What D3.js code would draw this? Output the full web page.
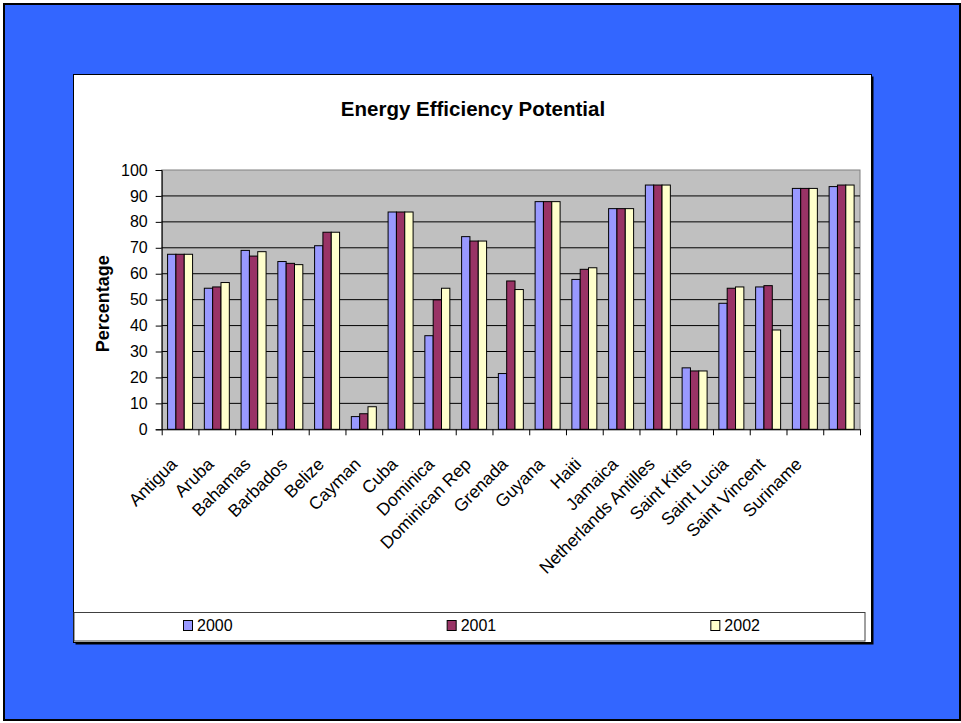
<!DOCTYPE html>
<html>
<head>
<meta charset="utf-8">
<script src="https://cdn.jsdelivr.net/npm/d3@7"></script>
<style>
  body { margin: 0; background: #fff; }
  svg { display: block; font-family: "Liberation Sans", Arial, sans-serif; }
</style>
</head>
<body>
<svg id="chart" width="961" height="723"></svg>
<script>
// data
var categories = ["Antigua", "Aruba", "Bahamas", "Barbados", "Belize", "Cayman", "Cuba",
    "Dominica", "Dominican Rep", "Grenada", "Guyana", "Haiti", "Jamaica",
    "Netherlands Antilles", "Saint Kitts", "Saint Lucia", "Saint Vincent", "Suriname", ""];
var series = ["2000", "2001", "2002"];
var values2000 = [67.5, 54.4, 69.0, 64.7, 70.8, 4.9, 83.8, 36.1, 74.3, 21.5, 87.8, 57.8, 85.1, 94.2, 23.7, 48.6, 54.9, 92.9, 93.6];
var values2001 = [67.5, 54.9, 66.8, 64.0, 76.0, 6.0, 83.8, 49.9, 72.6, 57.2, 87.8, 61.7, 85.1, 94.2, 22.5, 54.4, 55.4, 92.9, 94.2];
var values2002 = [67.5, 56.6, 68.5, 63.5, 76.0, 8.7, 83.8, 54.4, 72.6, 53.9, 87.8, 62.3, 85.1, 94.2, 22.5, 54.9, 38.3, 92.9, 94.2];
var yTicks = [0, 10, 20, 30, 40, 50, 60, 70, 80, 90, 100];
var colors = ["#9999ff", "#993366", "#ffffcc"];

var seriesValues = [values2000, values2001, values2002];
var rows = categories.map(function(c, i) {
    return { idx: i, name: c, vals: series.map(function(s, j) { return { key: s, j: j, v: seriesValues[j][i] }; }) };
});

var svg = d3.select("#chart");

// blue slide background
svg.append("rect")
    .attr("x", 4).attr("y", 4).attr("width", 956).attr("height", 716)
    .attr("fill", "#3366ff").attr("stroke", "#000").attr("stroke-width", 2);

// chart area with shadow
svg.append("rect")
    .attr("x", 75.5).attr("y", 76.5).attr("width", 798).attr("height", 568)
    .attr("fill", "#000");
svg.append("rect")
    .attr("x", 73.5).attr("y", 74.5).attr("width", 798).attr("height", 568)
    .attr("fill", "#fff").attr("stroke", "#000");

svg.append("text")
    .attr("x", 473).attr("y", 115.5)
    .attr("text-anchor", "middle")
    .style("font-size", "20.5px").style("font-weight", "bold")
    .text("Energy Efficiency Potential");

var plot = { left: 161.7, right: 860, top: 170, bottom: 429.3 };

var x0 = d3.scaleBand().domain(d3.range(categories.length)).range([plot.left, plot.right]);
var xIdx = d3.scaleLinear().domain([0, categories.length]).range([plot.left, plot.right]);
var groupW = x0.bandwidth() * 0.68;
var x1 = d3.scaleBand().domain(series).range([0, groupW]);
var y = d3.scaleLinear().domain([0, 100]).range([plot.bottom, plot.top]);

svg.append("rect")
    .attr("x", plot.left).attr("y", plot.top)
    .attr("width", plot.right - plot.left).attr("height", plot.bottom - plot.top)
    .attr("fill", "#c0c0c0").attr("stroke", "#808080");

// gridlines
svg.append("g").selectAll("line")
    .data(yTicks.filter(function(t) { return t > 0 && t < 100; }))
    .join("line")
    .attr("x1", plot.left).attr("x2", plot.right)
    .attr("y1", function(d) { return y(d); }).attr("y2", function(d) { return y(d); })
    .attr("stroke", "#000").attr("stroke-width", 1);

// bars
var groups = svg.append("g").selectAll("g")
    .data(rows)
    .join("g")
    .attr("transform", function(d) { return "translate(" + (x0(d.idx) + (x0.bandwidth() - groupW) / 2) + ",0)"; });
groups.selectAll("rect")
    .data(function(d) { return d.vals; })
    .join("rect")
    .attr("x", function(d) { return x1(d.key); })
    .attr("width", x1.bandwidth())
    .attr("y", function(d) { return y(d.v); })
    .attr("height", function(d) { return y(0) - y(d.v); })
    .attr("fill", function(d) { return colors[d.j]; })
    .attr("stroke", "#000").attr("stroke-width", 1);

// y axis
var yAxis = svg.append("g")
    .attr("transform", "translate(" + plot.left + ",0)")
    .call(d3.axisLeft(y).tickValues(yTicks).tickSize(6).tickPadding(8));
yAxis.select(".domain").attr("stroke", "#000");
yAxis.selectAll("text").style("font-size", "16px").attr("fill", "#000");

// x axis, ticks between groups
var xAxis = svg.append("g")
    .attr("transform", "translate(0," + plot.bottom + ")")
    .call(d3.axisBottom(xIdx).tickValues(d3.range(categories.length + 1)).tickSize(6).tickSizeOuter(0).tickFormat(""));
xAxis.select(".domain").attr("stroke", "#000");

svg.append("g").selectAll("text")
    .data(rows)
    .join("text")
    .attr("transform", function(d) {
        return "translate(" + (x0(d.idx) + x0.bandwidth() / 2 - 2) + "," + (plot.bottom + 36) + ") rotate(-45)";
    })
    .attr("text-anchor", "end")
    .style("font-size", "17.5px")
    .text(function(d) { return d.name; });

svg.append("text")
    .attr("transform", "translate(108.5," + ((plot.top + plot.bottom) / 2 + 4) + ") rotate(-90)")
    .attr("text-anchor", "middle")
    .style("font-size", "18px").style("font-weight", "bold")
    .text("Percentage");

// legend
var legend = { x: 74, y: 612.5, w: 791, h: 28.5 };
svg.append("rect")
    .attr("x", legend.x).attr("y", legend.y).attr("width", legend.w).attr("height", legend.h)
    .attr("fill", "#fff").attr("stroke", "#404040");
var lx = d3.scaleBand().domain(series).range([legend.x, legend.x + legend.w]);
var items = svg.append("g").selectAll("g")
    .data(series)
    .join("g")
    .attr("transform", function(d) { return "translate(" + (lx(d) + 109) + "," + (legend.y + 8) + ")"; });
items.append("rect")
    .attr("x", 0.5).attr("y", 0).attr("width", 9).attr("height", 10)
    .attr("fill", function(d, i) { return colors[i]; })
    .attr("stroke", "#000");
items.append("text")
    .attr("x", 14).attr("y", 10)
    .style("font-size", "16px")
    .text(function(d) { return d; });
</script>
</body>
</html>
